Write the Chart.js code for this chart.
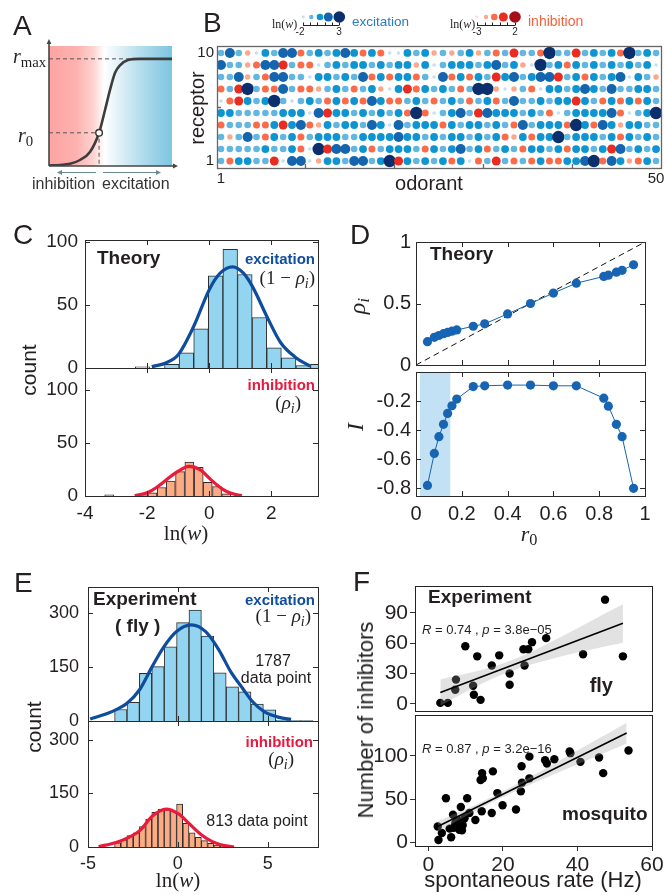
<!DOCTYPE html>
<html>
<head>
<meta charset="utf-8">
<script src="https://cdn.jsdelivr.net/npm/chart.js"></script>
<style>
html,body{margin:0;padding:0;background:#fff;}
#wrap{position:relative;width:664px;height:895px;overflow:hidden;background:#fff;font-family:"Liberation Sans",Arial,Helvetica,sans-serif;color:#231f20;}
#wrap canvas{position:absolute;}
.t{position:absolute;white-space:nowrap;line-height:1;}
.m{font-family:"Liberation Serif","DejaVu Serif","Times New Roman",serif;}
.t sub{font-size:0.74em;vertical-align:-0.25em;line-height:0;}
</style>
</head>
<body>
<div id="wrap"></div>
<script>
// ================= DATA =================
// Panel A : schematic response curve
const sigmoidX = [0, 0.89, 1.71, 2.52, 3.33, 4.07, 4.55, 4.96, 5.37, 5.77, 6.42, 7.4, 10];
const sigmoidY = [0.005, 0.01, 0.02, 0.056, 0.13, 0.31, 0.52, 0.71, 0.87, 0.94, 0.99, 1.0, 1.0];
const r0X = 4.07, r0Y = 0.31, rMaxY = 1.0;

// Panel B : receptor x odorant matrix (row 10 first). Codes: excitation p<l<m<b<n, inhibition q<s<o<r<x
const odorRows = [
  "lblspmlbbo lmlmbmomop pmlmslslms lolrllonll rlmlmonlml",
  "bllsobbrlo oplmlmmlml mmsmplmmml mblmspnlmo mlmlmlmlmp",
  "llbslobbll pmmlmlbomo mmolpbomom lrmblmbbrl momlmbpmls",
  "olrnlooblo oslmlolmsp mromlmloln nspslopmml mbmlbllmml",
  "pormlmnlpl mlomomobmo olmlolmlol molbllmlmm rmlomomoml",
  "mmlllllmmm pbrmmlmlml monoplmblr bmmmlmlopl mmmmboplmn",
  "ollloomrmb osmlmmlbmp blmmmomlmm lmloblmmmo nmobmsmmll",
  "lslblomlmo lmmmllmmmm bmmlmlmmlm lmosmommnl mmmlmomlml",
  "lllllmllmo pnrbblmolm mmlomlmblm olmlommlmo mmlmrblmlm",
  "lommllrpbb psmmlbblmn rmlmlmompo lrlolomoom mbnobmsoml"
];
const lnwOfCode = {p:-2, l:-0.75, m:0.5, b:1.75, n:3, q:-3, s:-1.75, o:-0.5, r:0.75, x:2};
const odorTicks = [1, 10.5, 20.5, 30.5, 40.5, 50];
const receptorTicks = [1, 5.5, 10];

// Panel C : theory histograms
const cExcBins   = [-2.145, -1.675, -1.205, -0.735, -0.265, 0.205, 0.675, 1.145, 1.615, 2.085, 2.555, 3.025, 3.495];
const cExcCounts = [1, 0, 3, 12, 31, 73, 94, 74, 40, 16, 8, 2, 3];
const cExcFitX = [-1.85, -1.4, -1.0, -0.5, 0, 0.35, 0.75, 1.1, 1.4, 1.85, 2.3, 2.8, 3.25];
const cExcFitY = [1, 4, 10.5, 33, 62, 75, 80, 75, 64, 41, 20, 8, 1.5];
const cInhBins   = [-3.22, -2.13, -1.83, -1.53, -1.24, -0.94, -0.64, -0.34, -0.05, 0.25, 0.55];
const cInhCounts = [1, 1, 3, 8, 14, 23, 32, 27, 13, 9, 2];
const cInhFitX = [-2.4, -2.0, -1.7, -1.35, -1.0, -0.65, -0.3, 0.05, 0.4, 0.7, 1.05];
const cInhFitY = [0.5, 3, 8, 16, 23.5, 28, 25, 15.5, 7, 2.5, 0.4];

// Panel D : theory rho_i and I vs r0
const dR0  = [0.05, 0.08, 0.10, 0.12, 0.138, 0.157, 0.178, 0.25, 0.30, 0.40, 0.50, 0.60, 0.70, 0.82, 0.84, 0.875, 0.90, 0.95];
const dRho = [0.19, 0.225, 0.24, 0.255, 0.265, 0.275, 0.285, 0.315, 0.335, 0.415, 0.50, 0.585, 0.665, 0.72, 0.73, 0.755, 0.77, 0.815];
const dInfo = [-0.78, -0.56, -0.445, -0.36, -0.285, -0.232, -0.186, -0.10, -0.095, -0.09, -0.09, -0.095, -0.095, -0.18, -0.235, -0.36, -0.445, -0.80];
const diagX = [0, 1], diagY = [0, 1];
const dShadeX = [0.017, 0.151];

// Panel E : fly experiment histograms
const eExcBins   = [-3.175, -2.485, -1.795, -1.105, -0.415, 0.275, 0.965, 1.655, 2.345, 3.035, 3.725, 4.415, 5.105, 5.795, 6.485, 7.175];
const eExcCounts = [32, 52, 132, 151, 206, 273, 308, 236, 134, 95, 81, 47, 31, 2, 1, 1];
const eExcFitX = [-4.88, -3.67, -2.83, -2.14, -1.43, -0.78, -0.09, 0.76, 1.55, 2.29, 2.94, 3.6, 4.15, 4.8, 5.64, 6.3];
const eExcFitY = [5.5, 26, 49, 86, 151, 206, 248, 267, 248, 197, 137, 91, 54, 26, 10, 4.6];
const eInhBins   = [-3.35, -3.0, -2.66, -2.31, -1.97, -1.62, -1.28, -0.93, -0.59, -0.24, 0.10, 0.45, 0.79, 1.14, 1.48, 1.83, 2.17, 2.52, 2.86];
const eInhCounts = [12, 20, 32, 40, 57, 78, 97, 106, 104, 100, 120, 66, 40, 27, 18, 10, 5, 3, 1];
const eInhFitX = [-4.41, -3.48, -2.73, -2.08, -1.43, -0.65, 0.06, 0.62, 1.27, 1.92, 2.67, 3.13];
const eInhFitY = [1, 12, 27, 48, 86, 106, 92, 66, 36, 15, 3, 0.5];

// Panel F : number of inhibitors vs spontaneous rate
const flyRate = [3.2, 5.2, 7.2, 7.4, 9.9, 12.0, 12.2, 13.1, 14.0, 17.0, 19.0, 21.8, 21.8, 25.5, 25.8, 26.8, 27.8, 31.6, 41.5, 47.4, 52.2];
const flyInh  = [1, 1, 14, 24, 57, 18, 9, 47, 4, 38, 48, 19, 30, 54, 38, 54, 61, 65, 49, 103, 47];
const flyFitX = [3.2, 52.2], flyFitY = [11.2, 79.6];
const flyBandX = [3.2, 10, 17, 25, 32, 40, 47, 52.2];
const flyBandHi = [24.2, 29.7, 36.5, 47.2, 59.5, 74.7, 88.5, 98.5];
const flyBandLo = [-1.8, 11.7, 24.5, 36.2, 43.5, 50.7, 56.5, 60.5];
const mosqRate = [2.5, 2.7, 3.6, 4.7, 5.7, 6.1, 6.6, 6.8, 7.2, 7.5, 7.7, 7.9, 8.3, 8.5, 8.7, 9.0, 9.2, 9.7, 10.4, 11.0, 12.6, 14.0, 14.3, 14.4, 14.6, 17.0, 17.3, 18.5, 19.9, 23.5, 24.8, 25.0, 25.1, 27.1, 27.1, 31.3, 31.8, 33.8, 37.9, 38.1, 40.8, 45.8, 46.9, 53.7];
const mosqInh  = [18.5, 3, 11, 51, 16, 6, 32, 17, 22, 24, 18.5, 26, 14.6, 19, 41, 14, 20, 28, 51, 34, 26, 72, 36, 80, 74, 34, 82, 57, 43, 38, 59, 88, 69, 99, 74, 95, 91, 96, 105, 103, 93, 98, 80, 106];
const mosqFitX = [2.5, 53.2], mosqFitY = [18.5, 126.2];
const mosqBandX = [2.5, 10, 15, 25, 35, 45, 53.2];
const mosqBandHi = [24.5, 38.4, 48.3, 70.3, 94.1, 118.3, 138.2];
const mosqBandLo = [12.5, 30.4, 41.9, 62.3, 81.1, 99.3, 114.2];

// ================= STYLE =================
const SANS = '"Liberation Sans", Arial, Helvetica, sans-serif';
const INK = '#231f20';
const EXC_FILL = '#93d5f1', INH_FILL = '#fdab85', BLUE_FIT = '#0e4d9e', RED_FIT = '#ea1a3c', D_BLUE = '#1664b2';
const dotStyle = {
  p:{col:'#c4e0f2', r:1.8}, l:{col:'#62b6e0', r:3.3}, m:{col:'#0e95d1', r:3.9}, b:{col:'#1464ae', r:5.0}, n:{col:'#0a2f6c', r:6.2},
  q:{col:'#fddcd0', r:1.8}, s:{col:'#fca78b', r:2.7}, o:{col:'#fa6b49', r:3.5}, r:{col:'#ea2b1f', r:4.5}, x:{col:'#a50f15', r:5.8}
};

const wrap = document.getElementById('wrap');
Chart.defaults.font.family = SANS;
Chart.defaults.color = INK;

function mk(l, t, w, h) {
  const c = document.createElement('canvas');
  c.width = w; c.height = h;
  c.style.left = l + 'px'; c.style.top = t + 'px'; c.style.width = w + 'px'; c.style.height = h + 'px';
  wrap.appendChild(c); return c;
}
const pts = (xs, ys) => xs.map((x, i) => ({x, y: ys[i]}));
const baseOpts = {responsive:false, maintainAspectRatio:false, animation:false, devicePixelRatio:1, events:[],
  plugins:{legend:{display:false}, tooltip:{enabled:false}}};

function framePlugin(f) {
  return {id:'frame', afterDatasetsDraw(ch) {
    const {ctx, chartArea:a, scales} = ch;
    ctx.save(); ctx.strokeStyle = f.color || '#2b2b2b'; ctx.lineWidth = f.lw || 1;
    const L = f.len || 5;
    ctx.beginPath();
    (f.xt || []).forEach(v => { const x = Math.round(scales.x.getPixelForValue(v)) + 0.5;
      ctx.moveTo(x, a.bottom); ctx.lineTo(x, a.bottom - L);
      if (f.mirror) { ctx.moveTo(x, a.top); ctx.lineTo(x, a.top + L); } });
    (f.yt || []).forEach(v => { const y = Math.round(scales.y.getPixelForValue(v)) + 0.5;
      ctx.moveTo(a.left, y); ctx.lineTo(a.left + L, y);
      if (f.mirror) { ctx.moveTo(a.right, y); ctx.lineTo(a.right - L, y); } });
    ctx.stroke();
    if (f.box !== false) {
      const l = Math.round(a.left), t = Math.round(a.top), r = Math.round(a.right), b = Math.round(a.bottom);
      ctx.strokeRect(l + 0.5, t + 0.5, r - l, b - t);
    }
    ctx.restore();
  }};
}

function makeChart(cv, pl, o) {
  const [cl, ct, cw, ch] = cv, [pL, pT, pR, pB] = pl;
  const canvas = mk(cl, ct, cw, ch);
  const gg = o.style === 'gg';
  const axis = (a, isX) => {
    const sz = isX ? (ct + ch - pB) : (pL - cl);
    const showGrid = gg && a.labels !== false;
    return {
      type:'linear', min:a.min, max:a.max, offset:false, position: isX ? 'bottom' : 'left',
      afterFit: s => { if (isX) s.height = sz; else s.width = sz; },
      afterBuildTicks: s => { s.ticks = a.ticks.map(v => ({value:v})); },
      ticks:{display: a.labels !== false, autoSkip:false, maxRotation:0, minRotation:0, padding: a.pad ?? 4,
        color: INK, font:{family:SANS, size:o.fs || 19}, callback: a.fmt || (v => String(v))},
      grid: showGrid ? {display:true, drawOnChartArea:false, drawTicks:true, tickLength:5, color:'#333', lineWidth:1}
                     : {display:false, drawTicks:false},
      border:{display:false}
    };
  };
  return new Chart(canvas, {
    type: o.type || 'scatter',
    data: {datasets: o.datasets},
    options: {...baseOpts, layout:{padding:{left:0, top:pT - ct, right:cl + cw - pR, bottom:0}},
      scales:{x: axis(o.x, true), y: axis(o.y, false)}},
    plugins: [framePlugin(o.frame || {}), ...(o.plugins || [])]
  });
}

// ================= PANEL A =================
function head(ctx, x, y, dir, s) {
  ctx.beginPath();
  if (dir === 'up') { ctx.moveTo(x, y - s); ctx.lineTo(x - s * 0.6, y + 1); ctx.lineTo(x + s * 0.6, y + 1); }
  if (dir === 'right') { ctx.moveTo(x + s, y); ctx.lineTo(x - 1, y - s * 0.6); ctx.lineTo(x - 1, y + s * 0.6); }
  if (dir === 'left') { ctx.moveTo(x - s, y); ctx.lineTo(x + 1, y - s * 0.6); ctx.lineTo(x + 1, y + s * 0.6); }
  ctx.closePath(); ctx.fill();
}
const gradA = {id:'gradA', beforeDatasetsDraw(ch) {
  const {ctx, chartArea:a} = ch;
  const g = ctx.createLinearGradient(a.left, 0, a.right, 0);
  g.addColorStop(0, '#fca4a1'); g.addColorStop(0.22, '#fdb1ae'); g.addColorStop(0.36, '#fed2d0');
  g.addColorStop(0.45, '#ffffff'); g.addColorStop(0.55, '#e6f3f9'); g.addColorStop(0.75, '#b3dded'); g.addColorStop(1, '#7cc5e0');
  ctx.save(); ctx.fillStyle = g; ctx.fillRect(a.left, a.top, a.right - a.left, a.bottom - a.top); ctx.restore();
}};
const axesA = {id:'axesA', afterDatasetsDraw(ch) {
  const {ctx, chartArea:a} = ch;
  ctx.save();
  ctx.strokeStyle = '#454545'; ctx.fillStyle = '#454545'; ctx.lineWidth = 1.6;
  ctx.beginPath(); ctx.moveTo(a.left, a.bottom); ctx.lineTo(a.left, a.top - 3);
  ctx.moveTo(a.left, a.bottom); ctx.lineTo(a.right + 2, a.bottom); ctx.stroke();
  head(ctx, a.left, a.top - 3, 'up', 4); head(ctx, a.right + 2, a.bottom, 'right', 4);
  const y = a.bottom + 6.5;
  ctx.strokeStyle = '#6b8c8c'; ctx.fillStyle = '#6b8c8c'; ctx.lineWidth = 1;
  ctx.beginPath(); ctx.moveTo(a.left + 47, y); ctx.lineTo(a.left + 12, y);
  ctx.moveTo(a.left + 54, y); ctx.lineTo(a.left + 108, y); ctx.stroke();
  head(ctx, a.left + 12, y, 'left', 4); head(ctx, a.left + 108, y, 'right', 4);
  ctx.restore();
}};
new Chart(mk(0, 30, 190, 170), {
  type:'line',
  data:{datasets:[
    {data:pts(sigmoidX, sigmoidY), borderColor:'#3d3d3d', borderWidth:2.6, pointRadius:0, cubicInterpolationMode:'monotone', order:1},
    {data:[{x:0, y:rMaxY}, {x:10, y:rMaxY}], borderColor:'#555', borderWidth:1, borderDash:[4,3], pointRadius:0, order:2},
    {data:[{x:0, y:r0Y}, {x:r0X, y:r0Y}, {x:r0X, y:0}], borderColor:'#555', borderWidth:1, borderDash:[4,3], pointRadius:0, order:2},
    {data:[{x:r0X, y:r0Y}], showLine:false, pointRadius:3.3, pointBackgroundColor:'#fff', pointBorderColor:'#333', pointBorderWidth:1.4, order:0}
  ]},
  options:{...baseOpts, layout:{padding:{left:49, top:16, right:18, bottom:34}},
    scales:{x:{type:'linear', display:false, min:0, max:10}, y:{type:'linear', display:false, min:0, max:1.12}}},
  plugins:[gradA, axesA]
});

// ================= PANEL B =================
const bPoints = [];
odorRows.forEach((row, ri) => {
  const rec = 10 - ri;
  [...row.replace(/ /g, '')].forEach((c, ci) => bPoints.push({x: ci + 1, y: rec, c, lnw: lnwOfCode[c]}));
});
const legR = [1.4, 2.2, 3.3, 4.5, 5.8];
const legendB = {id:'legB', afterDraw(ch) {
  const ctx = ch.ctx, ox = 185;
  const draw = (xs, codes, x0, x1) => {
    ctx.save(); ctx.strokeStyle = '#222'; ctx.lineWidth = 1;
    ctx.beginPath(); ctx.moveTo(x0 - ox, 25.5); ctx.lineTo(x1 - ox, 25.5);
    for (let i = 0; i <= 5; i++) { const x = Math.round(x0 + (x1 - x0) * i / 5) - ox + 0.5; ctx.moveTo(x, 25.5); ctx.lineTo(x, 22.5); }
    ctx.stroke();
    xs.forEach((x, i) => { ctx.beginPath(); ctx.fillStyle = dotStyle[codes[i]].col; ctx.arc(x - ox, 17, legR[i], 0, Math.PI * 2); ctx.fill(); });
    ctx.restore();
  };
  draw([303.3, 311.3, 320, 328.3, 339.3], ['p','l','m','b','n'], 303, 339);
  draw([476.7, 486, 494.3, 503.3, 515], ['q','s','o','r','x'], 477, 515);
}};
makeChart([185, 0, 487, 200], [217, 46, 661, 168], {fs:15,
  x:{min:0.55, max:50.56, ticks:odorTicks, pad:2, fmt: v => (v === 1 || v === 50) ? String(v) : ''},
  y:{min:0.42, max:10.58, ticks:receptorTicks, pad:3, fmt: v => (v === 1 || v === 10) ? String(v) : ''},
  datasets:[{data:bPoints, pointRadius: c => dotStyle[c.raw.c].r, pointBackgroundColor: c => dotStyle[c.raw.c].col, pointBorderWidth:0}],
  frame:{xt:[10.5, 20.5, 30.5, 40.5], yt:[5.5], len:4, color:'#666', lw:1.3},
  plugins:[legendB]
});

// ================= PANEL C =================
makeChart([30, 205, 300, 200], [85, 240, 318, 368], {type:'bar', fs:19,
  x:{min:-4, max:3.5, ticks:[-4,-2,0,2], labels:false},
  y:{min:0, max:101.3, ticks:[0,50,100], pad:7},
  datasets:[
    {type:'line', data:pts(cExcFitX, cExcFitY), borderColor:BLUE_FIT, borderWidth:3.2, pointRadius:0, cubicInterpolationMode:'monotone', order:0},
    {type:'bar', data:pts(cExcBins, cExcCounts), backgroundColor:EXC_FILL, borderColor:'#2e2e2e', borderWidth:1, barPercentage:1, categoryPercentage:1, order:1}
  ],
  frame:{xt:[-2,0,2], yt:[50,100], mirror:true}
});
makeChart([30, 335, 300, 200], [85, 368, 318, 496], {type:'bar', fs:19,
  x:{min:-4, max:3.5, ticks:[-4,-2,0,2], pad:6},
  y:{min:0, max:121, ticks:[0,50,100], pad:7},
  datasets:[
    {type:'line', data:pts(cInhFitX, cInhFitY), borderColor:RED_FIT, borderWidth:3.2, pointRadius:0, cubicInterpolationMode:'monotone', order:0},
    {type:'bar', data:pts(cInhBins, cInhCounts), backgroundColor:INH_FILL, borderColor:'#2e2e2e', borderWidth:1, barPercentage:1, categoryPercentage:1, order:1}
  ],
  frame:{xt:[-2,0,2], yt:[50,100], mirror:true}
});

// ================= PANEL D =================
makeChart([370, 205, 294, 200], [416, 242, 645, 365], {fs:20,
  x:{min:0, max:1, ticks:[0,0.2,0.4,0.6,0.8,1], labels:false},
  y:{min:0, max:1, ticks:[0,0.5,1], pad:5},
  datasets:[
    {type:'line', data:pts(dR0, dRho), borderColor:D_BLUE, borderWidth:1, pointRadius:4.6, pointBackgroundColor:D_BLUE, pointBorderWidth:0, order:0},
    {type:'line', data:pts(diagX, diagY), borderColor:'#111', borderWidth:1, borderDash:[6,4], pointRadius:0, order:1}
  ],
  frame:{xt:[0.2,0.4,0.6,0.8], yt:[0.5], mirror:true}
});
makeChart([370, 335, 294, 200], [416, 372, 645, 496], {fs:20,
  x:{min:0, max:1, ticks:[0,0.2,0.4,0.6,0.8,1], pad:6},
  y:{min:-0.853, max:0, ticks:[-0.8,-0.6,-0.4,-0.2], pad:5},
  datasets:[
    {type:'line', data:pts(dR0, dInfo), borderColor:D_BLUE, borderWidth:1, pointRadius:4.6, pointBackgroundColor:D_BLUE, pointBorderWidth:0, order:0},
    {type:'line', data:pts(dShadeX, [0, 0]), fill:'start', backgroundColor:'#c3e1f5', borderWidth:0, pointRadius:0, order:3}
  ],
  frame:{xt:[0.2,0.4,0.6,0.8], yt:[-0.8,-0.6,-0.4,-0.2], mirror:true}
});

// ================= PANEL E =================
makeChart([30, 550, 300, 210], [88, 587, 318, 721], {type:'bar', fs:18,
  x:{min:-5, max:7.8, ticks:[-5,0,5], labels:false},
  y:{min:0, max:372, ticks:[0,150,300], pad:9},
  datasets:[
    {type:'line', data:pts(eExcFitX, eExcFitY), borderColor:BLUE_FIT, borderWidth:3.2, pointRadius:0, cubicInterpolationMode:'monotone', order:0},
    {type:'bar', data:pts(eExcBins, eExcCounts), backgroundColor:EXC_FILL, borderColor:'#2e2e2e', borderWidth:1, barPercentage:1, categoryPercentage:1, order:1}
  ],
  frame:{xt:[0,5], yt:[150,300], mirror:true}
});
makeChart([30, 690, 300, 190], [88, 721, 318, 847], {type:'bar', fs:18,
  x:{min:-5, max:7.8, ticks:[-5,0,5], pad:6},
  y:{min:0, max:353, ticks:[0,150,300], pad:9},
  datasets:[
    {type:'line', data:pts(eInhFitX, eInhFitY), borderColor:RED_FIT, borderWidth:3.2, pointRadius:0, cubicInterpolationMode:'monotone', order:0},
    {type:'bar', data:pts(eInhBins, eInhCounts), backgroundColor:INH_FILL, borderColor:'#2e2e2e', borderWidth:1, barPercentage:1, categoryPercentage:1, order:1}
  ],
  frame:{xt:[0,5], yt:[150,300], mirror:true}
});

// ================= PANEL F =================
function fSets(rx, ry, fx, fy, bx, bhi, blo) {
  return [
    {type:'line', data:pts(fx, fy), borderColor:'#000', borderWidth:1.6, pointRadius:0, order:0},
    {type:'line', data:pts(bx, bhi), borderWidth:0, pointRadius:0, fill:'+1', backgroundColor:'rgba(160,160,160,0.3)', cubicInterpolationMode:'monotone', order:1},
    {type:'line', data:pts(bx, blo), borderWidth:0, pointRadius:0, fill:false, cubicInterpolationMode:'monotone', order:1},
    {type:'scatter', data:pts(rx, ry), pointRadius:4.2, pointBackgroundColor:'#000', pointBorderWidth:0, order:2}
  ];
}
makeChart([375, 550, 291, 200], [415, 586, 652, 711], {style:'gg', fs:21,
  x:{min:-3.6, max:60, ticks:[0,20,40,60], labels:false},
  y:{min:-7, max:116.5, ticks:[0,30,60,90], pad:2},
  datasets: fSets(flyRate, flyInh, flyFitX, flyFitY, flyBandX, flyBandHi, flyBandLo),
  frame:{color:'#222', lw:1}
});
makeChart([375, 680, 291, 200], [415, 715, 652, 846], {style:'gg', fs:21,
  x:{min:-3.6, max:60, ticks:[0,20,40,60], pad:2},
  y:{min:-4, max:147, ticks:[0,50,100], pad:2},
  datasets: fSets(mosqRate, mosqInh, mosqFitX, mosqFitY, mosqBandX, mosqBandHi, mosqBandLo),
  frame:{color:'#222', lw:1}
});

// ================= TEXT =================
function txt(s, x, base, o = {}) {
  const d = document.createElement('div');
  d.className = 't' + (o.serif ? ' m' : '');
  const fs = o.size || 16;
  d.style.fontSize = fs + 'px';
  d.innerHTML = s;
  if (o.bold) d.style.fontWeight = 'bold';
  if (o.color) d.style.color = o.color;
  if (o.rot) {
    d.style.left = x + 'px'; d.style.top = base + 'px';
    d.style.transform = 'translate(-50%,-50%) rotate(-90deg)';
  } else {
    d.style.top = (base - (o.serif ? 0.84 : 0.85) * fs) + 'px';
    d.style.left = x + 'px';
    const tx = o.align === 'center' ? '-50%' : o.align === 'right' ? '-100%' : '0';
    d.style.transform = 'translateX(' + tx + ')';
  }
  wrap.appendChild(d);
}
const RHO = '<i>ρ</i><sub><i>i</i></sub>';
const EXC_T = '#0f4d9d', INH_T = '#e8183e';
// A
txt('A', 13, 36, {size:28});
txt('<i>r</i><sub>max</sub>', 13, 63, {size:20, serif:true});
txt('<i>r</i><sub>0</sub>', 18, 142, {size:20, serif:true});
txt('inhibition', 32, 190, {size:16, color:'#333'});
txt('excitation', 102, 190, {size:16, color:'#333'});
// B
txt('B', 203, 33, {size:28});
txt('receptor', 197, 108, {size:20, rot:true});
txt('odorant', 429, 190, {size:20, align:'center'});
txt('ln(<i>w</i>)', 272, 28, {size:12, serif:true});
txt('-2', 300, 35, {size:10, align:'center'});
txt('3', 339, 35, {size:10, align:'center'});
txt('excitation', 352, 26, {size:13.5, color:'#2a7cc0'});
txt('ln(<i>w</i>)', 450, 28, {size:12, serif:true});
txt('-3', 477, 35, {size:10, align:'center'});
txt('2', 515, 35, {size:10, align:'center'});
txt('inhibition', 528, 26, {size:14, color:'#f4633d'});
// C
txt('C', 13, 245, {size:28});
txt('count', 28, 370, {size:21, rot:true});
txt('ln(<i>w</i>)', 186, 541, {size:21, serif:true, align:'center'});
txt('Theory', 97, 264, {size:19, bold:true});
txt('excitation', 315, 264, {size:15, bold:true, color:EXC_T, align:'right'});
txt('(1 − ' + RHO + ')', 315, 284, {size:19, serif:true, align:'right'});
txt('inhibition', 315, 390, {size:15, bold:true, color:INH_T, align:'right'});
txt('(' + RHO + ')', 301, 409, {size:19, serif:true, align:'right'});
// D
txt('D', 350, 245, {size:28});
txt(RHO, 357, 306, {size:24, serif:true, rot:true});
txt('<i>I</i>', 355, 427, {size:24, serif:true, rot:true});
txt('<i>r</i><sub>0</sub>', 529, 541, {size:22, serif:true, align:'center'});
txt('Theory', 430, 260, {size:19, bold:true});
// E
txt('E', 14, 593, {size:28});
txt('count', 33, 727, {size:21, rot:true});
txt('ln(<i>w</i>)', 178, 888, {size:21, serif:true, align:'center'});
txt('Experiment', 93, 605, {size:19, bold:true});
txt('( fly )', 115, 632, {size:19, bold:true});
txt('excitation', 315, 605, {size:15, bold:true, color:EXC_T, align:'right'});
txt('(1 − ' + RHO + ')', 311, 622, {size:19, serif:true, align:'right'});
txt('1787', 273, 667, {size:16, align:'center'});
txt('data point', 276, 684, {size:16, align:'center'});
txt('inhibition', 313, 747, {size:15, bold:true, color:INH_T, align:'right'});
txt('(' + RHO + ')', 294, 765, {size:19, serif:true, align:'right'});
txt('813 data point', 257, 827, {size:16, align:'center'});
// F
txt('F', 353, 592, {size:28});
txt('Number of inhibitors', 366, 720, {size:22, rot:true});
txt('spontaneous rate (Hz)', 533, 888, {size:22, align:'center'});
txt('Experiment', 428, 603, {size:19, bold:true});
txt('<i>R</i> = 0.74 , <i>p</i> = 3.8e−05', 422, 634, {size:13});
txt('fly', 613, 692, {size:20, bold:true, align:'right'});
txt('<i>R</i> = 0.87 , <i>p</i> = 3.2e−16', 422, 753, {size:13});
txt('mosquito', 562, 820, {size:19, bold:true});
</script>
</body>
</html>
